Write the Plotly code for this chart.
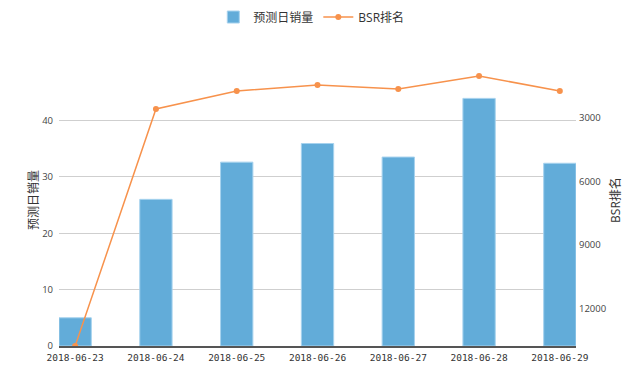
import plotly.graph_objects as go

dates = ["2018-06-23", "2018-06-24", "2018-06-25", "2018-06-26",
         "2018-06-27", "2018-06-28", "2018-06-29"]
sales = [5, 26, 32.6, 35.9, 33.5, 43.9, 32.4]
bsr = [13770, 2575, 1725, 1440, 1630, 1015, 1725]

left_ticks = [0, 10, 20, 30, 40]
right_ticks = [3000, 6000, 9000, 12000]
right_labels = ["3000", "6000", "9000", "12000"]

FONT = "Open Sans, Noto Sans CJK SC, sans-serif"

fig = go.Figure()
fig.add_trace(go.Bar(
    x=dates, y=sales, name="预测日销量", width=0.4,
    marker=dict(color="#62acd9", line=dict(color="#a6d2ee", width=1)),
    yaxis="y",
))
fig.add_trace(go.Scatter(
    x=dates, y=bsr, name="BSR排名", mode="lines+markers",
    line=dict(color="#f7924c", width=1.5),
    marker=dict(color="#f7924c", size=6),
    yaxis="y2",
))

# page body has an 8px default margin, so the figure is 632x368 and offset
fig.update_layout(
    width=632, height=368,
    margin=dict(l=51, r=64, t=46, b=30, autoexpand=False),
    paper_bgcolor="white", plot_bgcolor="white",
    font=dict(family=FONT, size=10, color="#444"),
    showlegend=True,
    legend=dict(orientation="h", x=0.488, xanchor="center",
                yref="container", y=0.9755, yanchor="middle",
                font=dict(size=12, color="#333"), itemwidth=30, traceorder="normal"),
    xaxis=dict(
        type="category", range=[-0.2, 6.2], automargin=False,
        showline=True, linecolor="#555", linewidth=1.5,
        ticks="", showgrid=False, ticklabelstandoff=2,
        tickfont=dict(family="DejaVu Sans Mono", size=9.5, color="#333"),
    ),
    yaxis=dict(
        range=[0, 51.77], tickvals=left_ticks, automargin=False,
        showgrid=True, gridcolor="#cfcfcf", gridwidth=1,
        zeroline=False, showline=False, ticks="", ticklabelstandoff=5,
        tickfont=dict(size=9.5, color="#444"),
        title=dict(text="预测日销量", font=dict(size=12, color="#333"), standoff=0),
    ),
    yaxis2=dict(
        overlaying="y", side="right", automargin=False,
        range=[13772, -24], tickvals=right_ticks, ticktext=right_labels,
        showgrid=False, zeroline=False, showline=False, ticks="", ticklabelstandoff=2,
        tickfont=dict(size=9.5, color="#444"),
        title=dict(text="BSR排名", font=dict(size=12, color="#333"), standoff=6),
    ),
)

fig.write_html("out.html")
